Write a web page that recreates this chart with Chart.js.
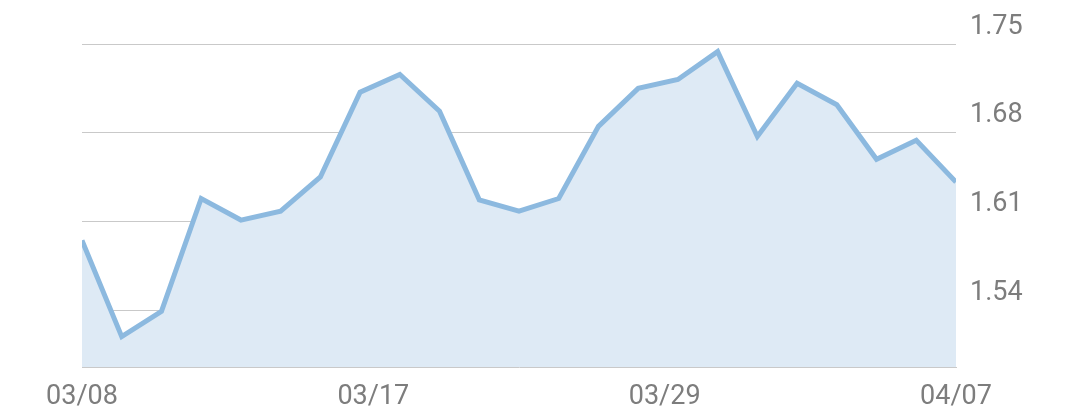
<!DOCTYPE html>
<html>
<head>
<meta charset="utf-8">
<script src="https://cdn.jsdelivr.net/npm/chart.js@4/dist/chart.umd.min.js"></script>
<style>
  html, body { margin: 0; padding: 0; background: #fff; }
  #chart { display: block; }
</style>
</head>
<body>
<canvas id="chart" width="1080" height="415"></canvas>
<script>
const values = [
    1.595, 1.519, 1.539, 1.628, 1.611, 1.618, 1.645, 1.712,
    1.726, 1.697, 1.627, 1.618, 1.628, 1.685, 1.715, 1.722,
    1.744, 1.677, 1.719, 1.702, 1.659, 1.674, 1.641
];
const xTickLabels = ['03/08', '03/17', '03/29', '04/07'];
const yTicks = [1.54, 1.61, 1.68, 1.75];

const lastIndex = values.length - 1;
const points = values.map((v, i) => ({ x: i, y: v }));
// the date labels are spread evenly along the axis, not pinned to points
const xTickPositions = xTickLabels.map((_, i) => i * lastIndex / (xTickLabels.length - 1));

const GREY_TEXT = '#7d7d7d';
const GRID = '#c9c9c9';

new Chart(document.getElementById('chart').getContext('2d'), {
    type: 'line',
    data: {
        datasets: [{
            data: points,
            borderColor: '#8cb9df',
            backgroundColor: '#deeaf5',
            borderWidth: 5,
            fill: 'start',
            tension: 0,
            pointRadius: 0,
            borderJoinStyle: 'miter'
        }]
    },
    options: {
        responsive: false,
        animation: false,
        layout: { padding: { left: 82, top: 44, right: 0, bottom: 0 } },
        plugins: { legend: { display: false }, tooltip: { enabled: false } },
        scales: {
            x: {
                type: 'linear',
                min: 0,
                max: lastIndex,
                grid: { display: false, drawTicks: false },
                border: { display: true, color: GRID, width: 1 },
                afterBuildTicks: s => { s.ticks = xTickPositions.map(v => ({ value: v })); },
                afterFit: s => { s.height = 48; },
                ticks: {
                    autoSkip: false,
                    maxRotation: 0,
                    padding: 14,
                    color: GREY_TEXT,
                    font: { family: 'Roboto', size: 27 },
                    callback: (v, i) => xTickLabels[i]
                }
            },
            y: {
                position: 'right',
                min: 1.495,
                max: 1.75,
                grid: { color: GRID, lineWidth: 1, drawTicks: false },
                border: { display: false },
                afterBuildTicks: s => { s.ticks = yTicks.map(v => ({ value: v })); },
                afterFit: s => { s.width = 124; },
                ticks: {
                    padding: 14,
                    labelOffset: -17,
                    color: GREY_TEXT,
                    font: { family: 'Roboto', size: 27 },
                    callback: v => v.toFixed(2)
                }
            }
        }
    }
});
</script>
</body>
</html>
